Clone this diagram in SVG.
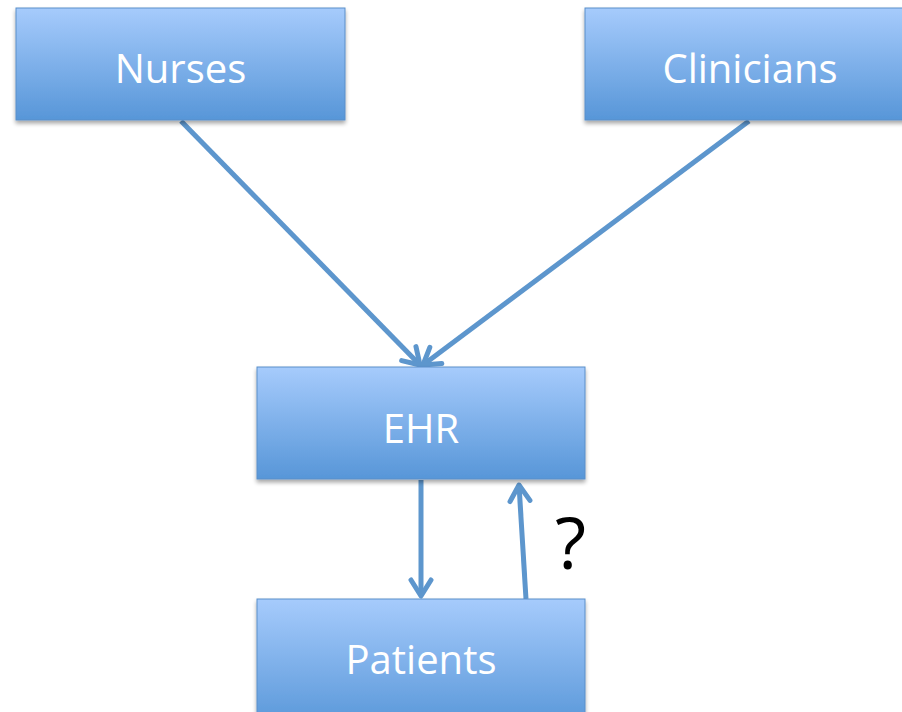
<svg xmlns="http://www.w3.org/2000/svg" width="902" height="712" viewBox="0 0 902 712">
  <defs>
    <linearGradient id="boxFill" x1="0" y1="0" x2="0" y2="1">
      <stop offset="0" stop-color="#a6cbfc"/>
      <stop offset="1" stop-color="#5796d8"/>
    </linearGradient>
    <filter id="shadow" x="-10%" y="-10%" width="120%" height="130%">
      <feGaussianBlur in="SourceAlpha" stdDeviation="2"/>
      <feOffset dx="0" dy="3" result="blur"/>
      <feComponentTransfer><feFuncA type="linear" slope="0.35"/></feComponentTransfer>
      <feMerge><feMergeNode/><feMergeNode in="SourceGraphic"/></feMerge>
    </filter>
    <marker id="arrowBig" viewBox="0 0 26 26" refX="22" refY="13" markerWidth="26" markerHeight="26" markerUnits="userSpaceOnUse" orient="auto">
      <path d="M6,3 L22,13 L6,23" fill="none" stroke="#5d96cd" stroke-width="5" stroke-linecap="round" stroke-linejoin="round"/>
    </marker>
  </defs>
  <style>
    .box { fill: url(#boxFill); stroke: #5a8fc9; stroke-width: 1; filter: url(#shadow); }
    .label { font-family: "Open Sans", "Liberation Sans", sans-serif; font-size: 40px; fill: #ffffff; text-anchor: middle; }
    .conn { stroke: #5d96cd; stroke-width: 5; fill: none; marker-end: url(#arrowBig); }
    .mark { font-family: "Open Sans", "Liberation Sans", sans-serif; font-size: 72px; fill: #000000; }
  </style>
  <rect x="0" y="0" width="902" height="712" fill="#ffffff"/>

  <g id="connectors">
    <line class="conn" x1="181" y1="121" x2="420" y2="365"/>
    <line class="conn" x1="749" y1="121" x2="423" y2="365"/>
    <line class="conn" x1="421" y1="480" x2="421" y2="596"/>
    <line class="conn" x1="526" y1="599" x2="519" y2="485"/>
  </g>

  <g id="nurses">
    <rect class="box" x="16" y="8" width="329" height="112"/>
    <text class="label" x="180.5" y="83">Nurses</text>
  </g>

  <g id="clinicians">
    <rect class="box" x="585" y="8" width="329" height="112"/>
    <text class="label" x="750" y="83">Clinicians</text>
  </g>

  <g id="ehr">
    <rect class="box" x="257" y="367" width="328" height="112"/>
    <text class="label" x="421" y="443">EHR</text>
  </g>

  <g id="patients">
    <rect class="box" x="257" y="599" width="328" height="130"/>
    <text class="label" x="421" y="674">Patients</text>
  </g>

  <text class="mark" x="555" y="569">?</text>
</svg>
